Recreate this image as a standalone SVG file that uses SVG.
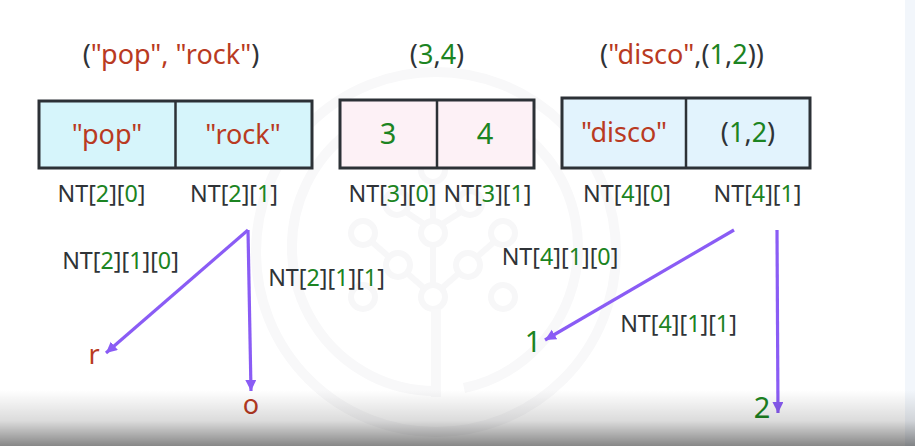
<svg xmlns="http://www.w3.org/2000/svg" width="915" height="446" viewBox="0 0 915 446">
<style>
text{font-family:"Noto Sans","Open Sans","Liberation Sans",sans-serif;fill:#2f3337;text-anchor:middle}
.t{font-size:27px}.c{font-size:27px}.l{font-size:23.300px}.leaf{font-size:29px}
.r{fill:#b93a22}.g{fill:#1c8422}
.box{stroke:#2c3136;stroke-width:3}
.div{stroke:#2c3136;stroke-width:2.500}
.conn{stroke:#8a5cf5;stroke-width:3.200;fill:none;marker-end:url(#ah)}
.big{fill:none;stroke:#f8f8f9;stroke-width:10}
.wm{fill:none;stroke:#f7f7f8;stroke-width:6}
</style>
<defs>
<marker id="ah" markerUnits="userSpaceOnUse" markerWidth="14" markerHeight="14" refX="11" refY="5.500" orient="auto"><path d="M0 0L11 5.500L0 11Z" fill="#8a5cf5"/></marker>
<linearGradient id="fade" x1="0" y1="0" x2="0" y2="1"><stop offset="0" stop-color="#000" stop-opacity="0"/><stop offset=".55" stop-color="#000" stop-opacity=".14"/><stop offset="1" stop-color="#000" stop-opacity=".47"/></linearGradient>
</defs>
<rect width="915" height="446" fill="#fff"/>
<rect x="905" width="10" height="446" fill="#f2f6fb"/>
<g id="watermark">
<circle class="big" cx="436" cy="252" r="180"/>
<path class="big" d="M436 391A143 144 0 1 1 464 388"/>
<circle class="wm" cx="363" cy="233" r="12"/><circle class="wm" cx="433" cy="233" r="12"/><circle class="wm" cx="503" cy="233" r="12"/>
<circle class="wm" cx="398" cy="265" r="12"/><circle class="wm" cx="468" cy="265" r="12"/>
<circle class="wm" cx="363" cy="297" r="12"/><circle class="wm" cx="433" cy="297" r="12"/><circle class="wm" cx="503" cy="297" r="12"/>
<circle class="wm" cx="397" cy="203" r="12"/><circle class="wm" cx="470" cy="203" r="12"/><circle class="wm" cx="433" cy="170" r="12"/>
<path class="wm" d="M372 242L388 256M408 274L424 288M494 242L478 256M458 274L442 288M433 245V285M433 182V221M424 224L406 212M442 224L461 212"/>
<path class="big" d="M436 309V397"/>
</g>
<g id="title1"><text class="t" x="171" y="64">(<tspan class="r">"pop", "rock"</tspan>)</text></g>
<g id="title2"><text class="t" x="437" y="64">(<tspan class="g">3</tspan>,<tspan class="g">4</tspan>)</text></g>
<g id="title3"><text class="t" x="682" y="64">(<tspan class="r">"disco"</tspan>,(<tspan class="g">1</tspan>,<tspan class="g">2</tspan>))</text></g>
<g id="tuple2">
<rect class="box" x="39" y="101" width="273" height="67" fill="#d6f5fb"/><line class="div" x1="175.500" y1="101" x2="175.500" y2="168"/>
<text class="c r" x="107" y="144">"pop"</text><text class="c r" x="243" y="144">"rock"</text>
<text class="l" x="101.500" y="202">NT[<tspan class="g">2</tspan>][<tspan class="g">0</tspan>]</text><text class="l" x="234" y="202">NT[<tspan class="g">2</tspan>][<tspan class="g">1</tspan>]</text>
</g>
<g id="tuple3">
<rect class="box" x="340" y="100" width="194" height="68" fill="#fdf1f6"/><line class="div" x1="437" y1="100" x2="437" y2="168"/>
<text class="leaf g" x="388" y="144">3</text><text class="leaf g" x="485" y="144">4</text>
<text class="l" x="392.500" y="202">NT[<tspan class="g">3</tspan>][<tspan class="g">0</tspan>]</text><text class="l" x="487.500" y="202">NT[<tspan class="g">3</tspan>][<tspan class="g">1</tspan>]</text>
</g>
<g id="tuple4">
<rect class="box" x="562" y="98" width="248" height="70" fill="#e2f3fd"/><line class="div" x1="686" y1="98" x2="686" y2="168"/>
<text class="c r" x="624" y="142">"disco"</text><text class="c" x="748" y="142">(<tspan class="g">1</tspan>,<tspan class="g">2</tspan>)</text>
<text class="l" x="627" y="202">NT[<tspan class="g">4</tspan>][<tspan class="g">0</tspan>]</text><text class="l" x="757.500" y="202">NT[<tspan class="g">4</tspan>][<tspan class="g">1</tspan>]</text>
</g>
<g id="connectors">
<path class="conn" d="M248 230L106 353"/><path class="conn" d="M248 230L251 391"/>
<path class="conn" d="M734 230L545 340"/><path class="conn" d="M777 230L778 413"/>
</g>
<g id="labels">
<text class="l" x="120.500" y="269">NT[<tspan class="g">2</tspan>][<tspan class="g">1</tspan>][<tspan class="g">0</tspan>]</text>
<text class="l" x="326.500" y="286">NT[<tspan class="g">2</tspan>][<tspan class="g">1</tspan>][<tspan class="g">1</tspan>]</text>
<text class="l" x="560" y="265">NT[<tspan class="g">4</tspan>][<tspan class="g">1</tspan>][<tspan class="g">0</tspan>]</text>
<text class="l" x="678.500" y="332">NT[<tspan class="g">4</tspan>][<tspan class="g">1</tspan>][<tspan class="g">1</tspan>]</text>
</g>
<g id="leaf-r"><text class="c r" x="94" y="364">r</text></g>
<g id="leaf-o"><text class="c r" x="251" y="414">o</text></g>
<g id="leaf-1"><text class="leaf g" x="533" y="352">1</text></g>
<g id="leaf-2"><text class="leaf g" x="762" y="418">2</text></g>
<rect x="0" y="390" width="915" height="56" fill="url(#fade)"/>
</svg>
